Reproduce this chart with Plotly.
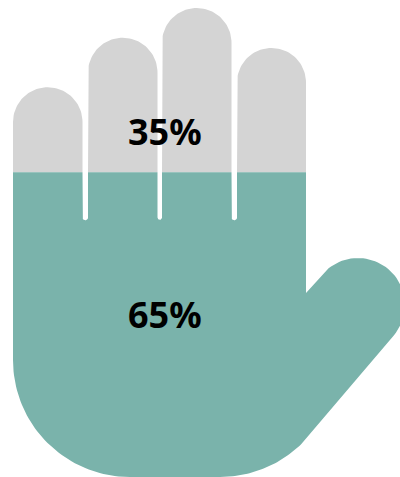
import math
import plotly.graph_objects as go

labels = ["35%", "65%"]
shares = [35, 65]  # empty part on top, filled part below
colors = ["#D4D4D4", "#7AB3AB"]

HAND_TOP, HAND_BOTTOM = 8, 477
level = HAND_BOTTOM - shares[1] / 100 * (HAND_BOTTOM - HAND_TOP)


def arc(cx, cy, r, a0, a1, n=48):
    return [(cx + r * math.cos(math.radians(a0 + (a1 - a0) * i / n)),
             cy + r * math.sin(math.radians(a0 + (a1 - a0) * i / n))) for i in range(n + 1)]


outline = []
outline += arc(47.75, 122, 34.75, 180, 360)
outline += arc(85.25, 217.5, 2.75, 180, 0, 12)
outline += arc(122.75, 72.5, 34.75, 180, 360)
outline += arc(159.75, 217.5, 2.25, 180, 0, 12)
outline += arc(196.75, 42.75, 34.75, 180, 360)
outline += arc(234.25, 217.5, 2.75, 180, 0, 12)
outline += arc(271.5, 82.5, 34.5, 180, 360)
outline += [(306, 293)]
outline += arc(358, 305, 47, 220, 400)
outline += arc(220, 360, 117, 40, 90)
outline += arc(130, 360, 117, 90, 180)


def clip(poly, y0, keep_above):
    inside = (lambda p: p[1] <= y0) if keep_above else (lambda p: p[1] >= y0)
    out = []
    for i, p in enumerate(poly):
        q = poly[(i + 1) % len(poly)]
        if inside(p):
            out.append(p)
        if inside(p) != inside(q):
            t = (y0 - p[1]) / (q[1] - p[1])
            out.append((p[0] + t * (q[0] - p[0]), y0))
    return out


fig = go.Figure()
for part, keep_above, color in ((0, True, colors[0]), (1, False, colors[1])):
    poly = clip(outline, level, keep_above)
    poly.append(poly[0])
    fig.add_trace(go.Scatter(
        x=[p[0] for p in poly], y=[p[1] for p in poly],
        mode="lines", line=dict(width=0, color=color),
        fill="toself", fillcolor=color, hoverinfo="skip", showlegend=False,
    ))

for label, y in zip(labels, (131, 314)):
    fig.add_annotation(x=165, y=y, text=f"<b>{label}</b>", showarrow=False,
                       xref="x", yref="y", xanchor="center", yanchor="middle",
                       font=dict(family="Noto Sans", size=36, color="#000000"))

fig.update_layout(
    width=400, height=477, margin=dict(l=0, r=0, t=0, b=0),
    paper_bgcolor="#FFFFFF", plot_bgcolor="#FFFFFF",
    xaxis=dict(range=[0, 400], visible=False, fixedrange=True),
    yaxis=dict(range=[477, 0], visible=False, fixedrange=True),
)
fig.write_html("out.html", config={"displayModeBar": False},
               post_script="document.body.style.margin='0';document.documentElement.style.overflow='hidden';")
